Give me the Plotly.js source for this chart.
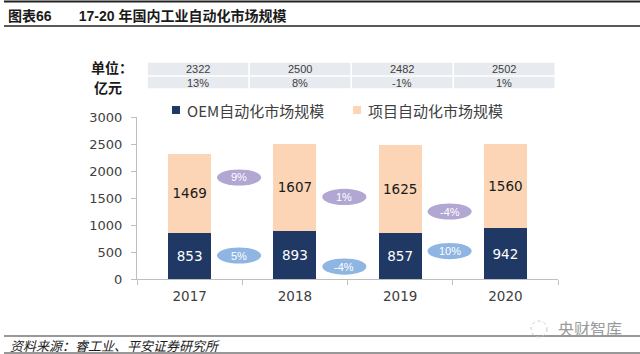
<!DOCTYPE html>
<html>
<head>
<meta charset="utf-8">
<script src="https://cdn.plot.ly/plotly-3.0.1.min.js"></script>
<style>
  html, body { margin: 0; padding: 0; background: #ffffff; }
  #chart { width: 640px; height: 354px; }
</style>
</head>
<body>
<div id="chart"></div>
<script>
// ---------- data ----------
const categories = ['2017', '2018', '2019', '2020'];
const oemValues = [853, 893, 857, 942];
const projectValues = [1469, 1607, 1625, 1560];
const seriesNames = ['OEM自动化市场规模', '项目自动化市场规模'];
const totalGrowthLabels = ['13%', '8%', '-1%', '1%'];
const oemGrowthLabels = ['5%', '-4%', '10%'];
const projectGrowthLabels = ['9%', '1%', '-4%'];
const unitLabels = ['单位：', '亿元'];
const titleText = '图表66\u00a0\u00a0\u00a0\u00a0\u00a0\u00a0\u00a017-20 年国内工业自动化市场规模';
const sourceText = '资料来源：睿工业、平安证券研究所';
const watermarkText = '央财智库';

// ---------- layout constants ----------
const W = 640, H = 354;
const M = { l: 137, r: 82, t: 117, b: 75 };
const plotW = W - M.l - M.r, plotH = H - M.t - M.b;
const px = x => (x - M.l) / plotW;          // pixel x -> paper x
const py = y => (H - M.b - y) / plotH;      // pixel y -> paper y
const projectBubbleY = [1880, 1520, 1250];
const oemBubbleY = [435, 231, 518];
const bubbleHalfW = 0.21, bubbleHalfH = 150;
const colorOEM = '#1f3864', colorProject = '#fbd5b5';
const colorPurple = '#b2a6d3', colorBlue = '#8fb5e3';
const numFont = 'DejaVu Sans, Noto Sans CJK SC, sans-serif';
const cjkFont = 'Noto Sans CJK SC, Liberation Sans, sans-serif';
const tableFont = 'Liberation Sans, Arial, sans-serif';

const totals = oemValues.map((v, i) => v + projectValues[i]);

const traces = [
  {
    type: 'bar', x: categories, y: oemValues, name: seriesNames[0],
    marker: { color: colorOEM },
    text: oemValues.map(String), textposition: 'inside', insidetextanchor: 'middle',
    textfont: { color: '#ffffff', size: 13.5, family: numFont },
    constraintext: 'none', hoverinfo: 'skip', showlegend: false
  },
  {
    type: 'bar', x: categories, y: projectValues, name: seriesNames[1],
    marker: { color: colorProject },
    text: projectValues.map(String), textposition: 'inside', insidetextanchor: 'middle',
    textfont: { color: '#1a1a1a', size: 13.5, family: numFont },
    constraintext: 'none', hoverinfo: 'skip', showlegend: false
  }
];

const shapes = [];
const annotations = [];
function note(o) {
  annotations.push(Object.assign({ showarrow: false, yanchor: 'middle' }, o));
}

// growth bubbles
function bubble(i, yv, label, color) {
  const cx = i + 0.47;
  shapes.push({ type: 'circle', xref: 'x', yref: 'y',
    x0: cx - bubbleHalfW, x1: cx + bubbleHalfW, y0: yv - bubbleHalfH, y1: yv + bubbleHalfH,
    fillcolor: color, line: { width: 0 }, layer: 'above' });
  note({ xref: 'x', yref: 'y', x: cx, y: yv, xanchor: 'center', text: label,
    font: { color: '#ffffff', size: 11, family: tableFont } });
}
projectGrowthLabels.forEach((t, i) => bubble(i, projectBubbleY[i], t, colorPurple));
oemGrowthLabels.forEach((t, i) => bubble(i, oemBubbleY[i], t, colorBlue));

// table above the chart
const colW = 0.97, colStart = -0.405;
const rowsPx = [[62, 76], [76, 89]];
const rowTexts = [totals.map(String), totalGrowthLabels];
rowTexts.forEach((row, r) => {
  row.forEach((t, i) => {
    const x0 = colStart + i * colW, x1 = x0 + colW;
    shapes.push({ type: 'rect', xref: 'x', yref: 'paper',
      x0: x0 + 0.008, x1: x1 - 0.008, y0: py(rowsPx[r][1]) + 0.004, y1: py(rowsPx[r][0]) - 0.004,
      fillcolor: '#e7eaef', line: { width: 0 } });
    note({ xref: 'x', yref: 'paper', x: (x0 + x1) / 2, xanchor: 'center',
      y: py((rowsPx[r][0] + rowsPx[r][1]) / 2), text: t,
      font: { size: 11, color: '#404040', family: tableFont } });
  });
});
note({ xref: 'paper', yref: 'paper', x: px(89), y: py(67), xanchor: 'left',
  text: '<b>' + unitLabels[0] + '</b>',
  font: { size: 14, color: '#1a1a1a', family: cjkFont } });
note({ xref: 'paper', yref: 'paper', x: px(92), y: py(87), xanchor: 'left',
  text: '<b>' + unitLabels[1] + '</b>',
  font: { size: 14, color: '#1a1a1a', family: cjkFont } });

// custom legend
const legendItems = [[172, colorOEM], [353, colorProject]];
legendItems.forEach(([x, c], k) => {
  shapes.push({ type: 'rect', xref: 'paper', yref: 'paper',
    x0: px(x), x1: px(x + 8), y0: py(114), y1: py(106), fillcolor: c, line: { width: 0 } });
  note({ xref: 'paper', yref: 'paper', x: px(x + 13), y: py(110), xanchor: 'left',
    text: seriesNames[k],
    font: { size: 15, color: '#404040', family: cjkFont } });
});

// header / footer rules
[[1.5, 2, '#222'], [26, 1.5, '#222'], [336, 1.2, '#333'], [353, 1.2, '#333']].forEach(([y, w, c]) => {
  shapes.push({ type: 'line', xref: 'paper', yref: 'paper', x0: px(4), x1: px(640), y0: py(y), y1: py(y),
    line: { color: c, width: w } });
});
note({ xref: 'paper', yref: 'paper', x: px(8), y: py(345), xanchor: 'left',
  text: '<i>' + sourceText + '</i>',
  font: { size: 13, color: '#1a1a1a', family: cjkFont } });
note({ xref: 'paper', yref: 'paper', x: px(556), y: py(328), xanchor: 'left',
  text: watermarkText,
  font: { size: 16, color: '#9a9a9a', family: cjkFont } });
shapes.push({ type: 'circle', xref: 'paper', yref: 'paper', x0: px(531), x1: px(547), y0: py(337), y1: py(321),
  line: { color: '#c8c8c8', width: 1, dash: 'dot' } });

const layout = {
  width: W, height: H,
  margin: M,
  paper_bgcolor: '#ffffff', plot_bgcolor: '#ffffff',
  barmode: 'stack', bargap: 0.59,
  title: { text: '<b>' + titleText + '</b>', x: 8 / W, xanchor: 'left', xref: 'container',
    y: 1 - 16 / H, yanchor: 'middle', yref: 'container',
    font: { size: 14, color: '#1a1a1a', family: 'Liberation Sans, Noto Sans CJK SC, sans-serif' } },
  xaxis: {
    type: 'category', range: [-0.5, 3.5],
    showline: true, linecolor: '#bfbfbf', linewidth: 1,
    ticks: 'outside', tickson: 'boundaries', ticklen: 5, tickcolor: '#bfbfbf',
    ticklabelstandoff: 5,
    tickfont: { size: 13.5, color: '#404040', family: numFont },
    showgrid: false, zeroline: false, fixedrange: true
  },
  yaxis: {
    range: [0, 3000], dtick: 500, tick0: 0,
    showline: true, linecolor: '#bfbfbf', linewidth: 1,
    ticks: 'outside', ticklen: 5, tickcolor: '#bfbfbf',
    ticklabelstandoff: 6,
    tickfont: { size: 13, color: '#404040', family: numFont },
    showgrid: false, zeroline: false, fixedrange: true
  },
  shapes: shapes,
  annotations: annotations,
  showlegend: false
};

Plotly.newPlot('chart', traces, layout, { staticPlot: true, displayModeBar: false });
</script>
</body>
</html>
